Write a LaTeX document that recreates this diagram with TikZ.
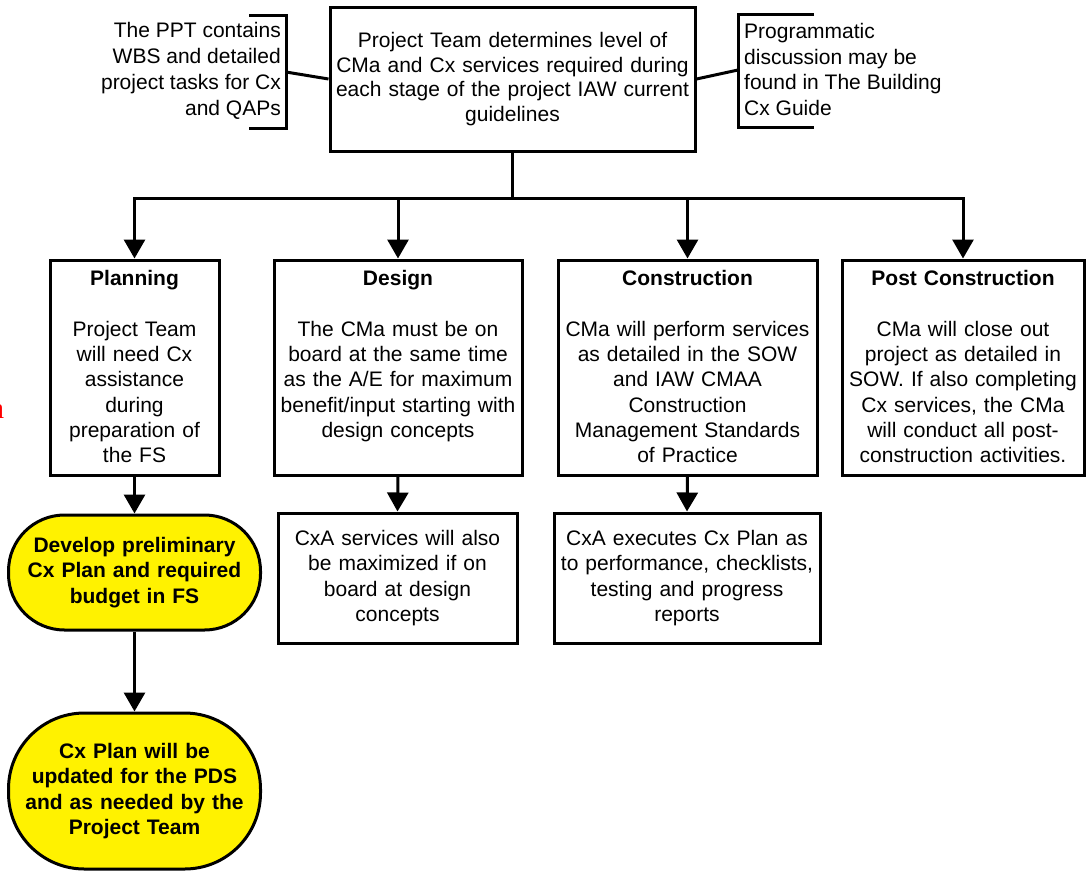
\documentclass[tikz,border=0pt]{standalone}
\usepackage{fontspec}
\setmainfont{Liberation Sans}
\newfontfamily\redserif{Liberation Serif}
\usetikzlibrary{arrows.meta}
\begin{document}
\begin{tikzpicture}[x=1pt,y=-1pt,
  boxed/.style={draw, line width=3pt, align=center, inner xsep=2pt, inner ysep=0pt,
    font=\fontsize{21}{25.2}\selectfont},
  topbox/.style={boxed, font=\fontsize{21}{24.4}\selectfont},
  phase/.style={boxed, text height=25.5pt, text depth=189.5pt},
  subbox/.style={boxed, minimum height=130pt, font=\fontsize{21}{25.6}\selectfont},
  term/.style={boxed, fill=yellow, font=\fontsize{21}{25.6}\selectfont\bfseries},
  note/.style={inner sep=0pt, font=\fontsize{21}{25.9}\selectfont},
  bracket/.style={line width=3pt, line join=miter},
  link/.style={line width=3pt},
  arr/.style={line width=3pt, -{Triangle[length=19pt,width=21pt]}},
]
\useasboundingbox (0,0) rectangle (1090,871);

% top box
\node[topbox, text width=361pt, minimum height=144pt] (top) at (512.5,79)
  {Project Team determines level of\\CMa and Cx services required during\\each stage of the project IAW current\\guidelines};

% side notes
\node[note, align=right, anchor=east] (lnote) at (281,71)
  {The PPT contains\\WBS and detailed\\project tasks for Cx\\and QAPs};
\node[note, align=left, anchor=west] (rnote) at (744,69.5)
  {Programmatic\\discussion may be\\found in The Building\\Cx Guide};
\draw[bracket] (249,15) -- (286,15) -- (286,128) -- (249,128);
\draw[bracket] (814,14) -- (738,14) -- (738,127) -- (814,127);
\coordinate (lbm) at (286,72);
\coordinate (rbm) at (738,70);
\draw[link] (top.west) -- (lbm);
\draw[link] (top.east) -- (rbm);

% phase boxes
\node[phase, text width=165pt] (plan) at (134.5,367.5)
  {\textbf{Planning}\\[25.8pt]Project Team\\will need Cx\\assistance\\during\\preparation of\\the FS};
\node[phase, text width=244pt] (design) at (398,367.5)
  {\textbf{Design}\\[25.8pt]The CMa must be on\\board at the same time\\as the A/E for maximum\\benefit/input starting with\\design concepts};
\node[phase, text width=255pt] (constr) at (687.5,367.5)
  {\textbf{Construction}\\[25.8pt]CMa will perform services\\as detailed in the SOW\\and IAW CMAA\\Construction\\Management Standards\\of Practice};
\node[phase, text width=238pt] (post) at (963,367.5)
  {\textbf{Post Construction}\\[25.8pt]CMa will close out\\project as detailed in\\SOW. If also completing\\Cx services, the CMa\\will conduct all post-\\construction activities.};

% trunk
\coordinate (bus) at (512.5,198);
\draw[arr] (top.south) -- (bus) -| (plan.north);
\draw[arr] (bus) -| (design.north);
\draw[arr] (bus) -| (constr.north);
\draw[arr] (bus) -| (post.north);

% sub boxes
\node[subbox, text width=235pt] (dsub) at (397.5,578)
  {CxA services will also\\be maximized if on\\board at design\\concepts};
\node[subbox, text width=262pt] (csub) at (687,578)
  {CxA executes Cx Plan as\\to performance, checklists,\\testing and progress\\reports};
\draw[arr] (design.south) -- (dsub.north);
\draw[arr] (constr.south) -- (csub.north);

% terminators
\node[term, text width=248pt, minimum height=115pt, rounded corners=56pt] (t1) at (134.5,572.5)
  {Develop preliminary\\Cx Plan and required\\budget in FS};
\node[term, text width=248pt, minimum height=156pt, rounded corners=76pt] (t2) at (134.5,791)
  {Cx Plan will be\\updated for the PDS\\and as needed by the\\Project Team};
\draw[arr] (plan.south) -- (t1.north);
\draw[arr] (t1.south) -- (t2.north);

% clipped red glyph at the left edge
\node[inner sep=0pt, anchor=base east, text=red, font=\fontsize{30}{30}\selectfont\redserif] (redmark) at (4.5,418) {a};
\end{tikzpicture}
\end{document}
